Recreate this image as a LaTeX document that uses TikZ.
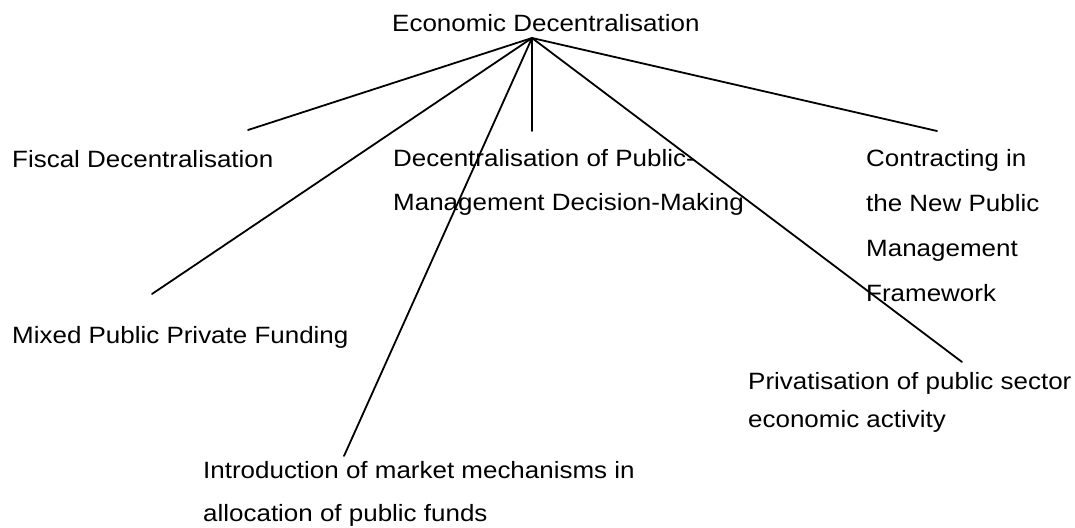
\documentclass[tikz,border=0pt]{standalone}
\usepackage{fontspec}
\setmainfont{Liberation Sans}[FakeStretch=1.1]
\begin{document}
\begin{tikzpicture}[x=1pt,y=-1pt,
  label/.style={anchor=base west,inner sep=0pt,align=left,
    font=\fontsize{23.6}{44}\selectfont},
  branch/.style={line width=1.8pt,line cap=round}]
\useasboundingbox (0,0) rectangle (1075,527);

% root and the branching point below it
\node[label] (root) at (392,32) {Economic Decentralisation};
\coordinate (apex) at (532,38);

% branch labels (multi-line nodes are placed by the baseline of their last line)
\node[label] (fiscal) at (12,167) {Fiscal Decentralisation};
\node[label] (mixed) at (12,343) {Mixed Public Private Funding};
\node[label] (mgmt) at (393,210) {Decentralisation of Public-\\Management Decision-Making};
\node[label,font=\fontsize{23.6}{45}\selectfont] (contract) at (866,301) {Contracting in\\the New Public\\Management\\Framework};
\node[label,font=\fontsize{23.6}{38}\selectfont] (priv) at (748,427) {Privatisation of public sector\\economic activity};
\node[label,font=\fontsize{23.6}{43}\selectfont] (market) at (203,521) {Introduction of market mechanisms in\\allocation of public funds};

% free ends of the branches
\coordinate (eFiscal) at (248,130);
\coordinate (eMixed) at (152,294);
\coordinate (eMarket) at (344,456);
\coordinate (eMgmt) at (532,131);
\coordinate (ePriv) at (962,362);
\coordinate (eContract) at (937,131);

\foreach \e in {eFiscal,eMixed,eMarket,eMgmt,ePriv,eContract}
  \draw[branch] (apex) -- (\e);
\end{tikzpicture}
\end{document}
